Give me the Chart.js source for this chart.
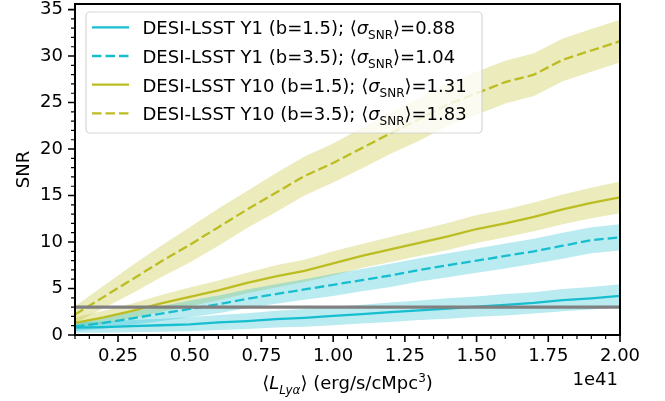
<!DOCTYPE html>
<html>
<head>
<meta charset="utf-8">
<script src="https://cdn.jsdelivr.net/npm/chart.js@4.4.0/dist/chart.umd.min.js"></script>
<style>
  html, body { margin: 0; padding: 0; background: #fff; }
  #wrap { width: 665px; height: 401px; }
</style>
</head>
<body>
<div id="wrap"><canvas id="snrChart" width="665" height="401"></canvas></div>
<script>
// <L_Lya> grid, in units of 1e41 erg/s/cMpc^3
const lumValues = [0.1, 0.2, 0.3, 0.4, 0.5, 0.6, 0.7, 0.8, 0.9, 1.0,
                   1.1, 1.2, 1.3, 1.4, 1.5, 1.6, 1.7, 1.8, 1.9, 2.0];

// mean SNR per survey / bias
const snrY1b15  = [0.8, 0.85, 0.95, 1.05, 1.15, 1.35, 1.5, 1.7, 1.85, 2.05,
                   2.25, 2.45, 2.65, 2.85, 3.05, 3.25, 3.45, 3.75, 3.95, 4.2];
const snrY1b35  = [0.9, 1.3, 1.8, 2.3, 2.8, 3.3, 3.9, 4.4, 4.9, 5.4,
                   5.9, 6.4, 7.0, 7.5, 8.0, 8.5, 9.0, 9.6, 10.2, 10.5];
const snrY10b15 = [1.3, 1.9, 2.6, 3.4, 4.1, 4.8, 5.6, 6.3, 6.9, 7.7,
                   8.5, 9.2, 9.9, 10.6, 11.4, 12.0, 12.7, 13.5, 14.2, 14.8];
const snrY10b35 = [2.2, 4.1, 6.0, 7.9, 9.7, 11.6, 13.5, 15.3, 17.1, 18.5,
                   20.1, 21.7, 23.2, 24.8, 26.0, 27.2, 28.0, 29.6, 30.6, 31.6];

// half width of the shaded spread
const errY1b15  = [0.55, 0.6, 0.65, 0.7, 0.75, 0.8, 0.85, 0.9, 0.95, 1.0,
                   1.0, 1.05, 1.05, 1.1, 1.1, 1.15, 1.15, 1.2, 1.2, 1.25];
const errY1b35  = [0.5, 0.6, 0.7, 0.8, 0.9, 0.95, 1.0, 1.05, 1.1, 1.2,
                   1.2, 1.25, 1.25, 1.3, 1.3, 1.35, 1.35, 1.4, 1.4, 1.4];
const errY10b15 = [0.6, 0.7, 0.8, 0.9, 1.0, 1.05, 1.1, 1.2, 1.2, 1.3,
                   1.3, 1.35, 1.4, 1.45, 1.5, 1.5, 1.55, 1.6, 1.65, 1.7];
const errY10b35 = [0.9, 1.2, 1.5, 1.7, 1.9, 2.0, 2.0, 2.1, 2.1, 2.1,
                   2.2, 2.2, 2.3, 2.3, 2.3, 2.3, 2.3, 2.3, 2.3, 2.3];

const legendLabels = ['DESI-LSST Y1 (b=1.5); ', 'DESI-LSST Y1 (b=3.5); ',
                      'DESI-LSST Y10 (b=1.5); ', 'DESI-LSST Y10 (b=3.5); '];
const sigmaMean = [0.88, 1.04, 1.31, 1.83];
const snrThreshold = 3;

const xTicks = [0.25, 0.5, 0.75, 1.0, 1.25, 1.5, 1.75, 2.0];
const yTicks = [0, 5, 10, 15, 20, 25, 30, 35];

const FONT = 'DejaVu Sans';
const FS = 18;
const CYAN = '#17becf';
const OLIVE = '#bcbd22';
const DASH = [9.5, 4];

const series = [
  { mean: snrY1b15,  err: errY1b15,  color: CYAN,  fillc: 'rgba(23,190,207,0.3)', dash: [] },
  { mean: snrY1b35,  err: errY1b35,  color: CYAN,  fillc: 'rgba(23,190,207,0.3)', dash: DASH },
  { mean: snrY10b15, err: errY10b15, color: OLIVE, fillc: 'rgba(188,189,34,0.3)', dash: [] },
  { mean: snrY10b35, err: errY10b35, color: OLIVE, fillc: 'rgba(188,189,34,0.3)', dash: DASH }
];

const pts = ys => lumValues.map((x, i) => ({ x: x, y: ys[i] }));

const datasets = [];
series.forEach(s => {
  // band: lower edge, then upper edge filled down to it
  datasets.push({ data: pts(s.mean.map((m, i) => m - s.err[i])), borderColor: 'transparent',
                  borderWidth: 0, pointRadius: 0, fill: false, order: 20 });
  datasets.push({ data: pts(s.mean.map((m, i) => m + s.err[i])), borderColor: 'transparent',
                  borderWidth: 0, pointRadius: 0, fill: '-1', backgroundColor: s.fillc, order: 20 });
});
series.forEach(s => {
  datasets.push({ data: pts(s.mean), borderColor: s.color, borderWidth: 2.3, borderDash: s.dash,
                  pointRadius: 0, fill: false, order: 10 });
});
datasets.push({
  data: [{ x: lumValues[0], y: snrThreshold }, { x: lumValues[lumValues.length - 1], y: snrThreshold }],
  borderColor: '#808080', borderWidth: 3.2, pointRadius: 0, fill: false, order: 1
});

// text with sub/superscripts
function drawRuns(ctx, runs, x, y, measureOnly) {
  let w = 0;
  runs.forEach(([txt, st]) => {
    let size = FS, off = 0, italic = false;
    if (st === 'i') italic = true;
    if (st === 's') { size = 12; off = 5; }
    if (st === 'si') { size = 12; off = 5; italic = true; }
    if (st === 'p') { size = 12; off = -7.5; }
    ctx.font = (italic ? 'italic ' : '') + size + 'px "' + FONT + '"';
    if (!measureOnly) ctx.fillText(txt, x + w, y + off);
    w += ctx.measureText(txt).width;
  });
  return w;
}

const decor = {
  id: 'decor',
  afterDraw(chart) {
    const { ctx, chartArea: a, scales: { x, y } } = chart;
    ctx.save();
    ctx.strokeStyle = '#000';
    ctx.fillStyle = '#000';

    // minor ticks
    ctx.lineWidth = 1.2;
    ctx.beginPath();
    for (let i = 2; i <= 40; i++) {
      const v = i * 0.05;
      if (i % 5 === 0) continue;
      const px = x.getPixelForValue(v);
      ctx.moveTo(px, a.bottom); ctx.lineTo(px, a.bottom + 4);
    }
    for (let v = 0; v <= 35; v++) {
      if (v % 5 === 0) continue;
      const py = y.getPixelForValue(v);
      ctx.moveTo(a.left, py); ctx.lineTo(a.left - 4, py);
    }
    ctx.stroke();

    // major ticks
    ctx.lineWidth = 1.6;
    ctx.beginPath();
    xTicks.forEach(v => {
      const px = x.getPixelForValue(v);
      ctx.moveTo(px, a.bottom); ctx.lineTo(px, a.bottom + 7);
    });
    yTicks.forEach(v => {
      const py = y.getPixelForValue(v);
      ctx.moveTo(a.left, py); ctx.lineTo(a.left - 7, py);
    });
    ctx.stroke();

    // frame
    ctx.lineWidth = 2;
    ctx.strokeRect(a.left, a.top, a.right - a.left, a.bottom - a.top);

    // axis labels
    ctx.textBaseline = 'alphabetic';
    const xl = [['\u27E8', 'n'], ['L', 'i'], ['Ly\u03B1', 'si'], ['\u27E9 (erg/s/cMpc', 'n'], ['3', 'p'], [')', 'n']];
    const xw = drawRuns(ctx, xl, 0, 0, true);
    drawRuns(ctx, xl, (a.left + a.right) / 2 - xw / 2, 389);

    ctx.font = FS + 'px "' + FONT + '"';
    ctx.textAlign = 'right';
    ctx.fillText('1e41', a.right - 2, 385);
    ctx.textAlign = 'left';

    ctx.save();
    ctx.translate(28.5, (a.top + a.bottom) / 2);
    ctx.rotate(-Math.PI / 2);
    ctx.textAlign = 'center';
    ctx.fillText('SNR', 0, 0);
    ctx.restore();

    // legend
    const bx = 86, by = 12, bw = 396, bh = 121, r = 4;
    ctx.beginPath();
    ctx.moveTo(bx + r, by);
    ctx.arcTo(bx + bw, by, bx + bw, by + bh, r);
    ctx.arcTo(bx + bw, by + bh, bx, by + bh, r);
    ctx.arcTo(bx, by + bh, bx, by, r);
    ctx.arcTo(bx, by, bx + bw, by, r);
    ctx.closePath();
    ctx.fillStyle = 'rgba(255,255,255,0.8)';
    ctx.fill();
    ctx.strokeStyle = 'rgba(204,204,204,0.8)';
    ctx.lineWidth = 1.2;
    ctx.stroke();

    series.forEach((s, i) => {
      const ry = 27.3 + i * 28.7;
      ctx.strokeStyle = s.color;
      ctx.lineWidth = 2.3;
      ctx.setLineDash(s.dash);
      ctx.beginPath();
      ctx.moveTo(92, ry); ctx.lineTo(129, ry);
      ctx.stroke();
      ctx.setLineDash([]);
      ctx.fillStyle = '#000';
      drawRuns(ctx, [[legendLabels[i], 'n'], ['\u27E8', 'n'], ['\u03C3', 'i'], ['SNR', 's'],
                     ['\u27E9=' + sigmaMean[i].toFixed(2), 'n']], 142.5, ry + 7);
    });
    ctx.restore();
  }
};

new Chart(document.getElementById('snrChart'), {
  type: 'line',
  data: { datasets: datasets },
  options: {
    responsive: false,
    animation: false,
    devicePixelRatio: 1,
    events: [],
    layout: { padding: { top: 4, right: 45, left: 0, bottom: 0 } },
    plugins: { legend: { display: false }, tooltip: { enabled: false } },
    scales: {
      x: {
        type: 'linear', min: 0.1, max: 2.0,
        grid: { display: false, drawTicks: false }, border: { display: false },
        ticks: { autoSkip: false, maxRotation: 0, padding: 11, color: '#000',
                 font: { family: FONT, size: FS }, callback: v => v.toFixed(2) },
        afterBuildTicks: s => { s.ticks = xTicks.map(v => ({ value: v })); },
        afterFit: s => { s.height = 66; s.paddingLeft = 0; s.paddingRight = 0; }
      },
      y: {
        type: 'linear', min: 0, max: 35.6,
        grid: { display: false, drawTicks: false }, border: { display: false },
        ticks: { autoSkip: false, padding: 12, color: '#000',
                 font: { family: FONT, size: FS } },
        afterBuildTicks: s => { s.ticks = yTicks.map(v => ({ value: v })); },
        afterFit: s => { s.width = 75; s.paddingTop = 0; s.paddingBottom = 0; }
      }
    }
  },
  plugins: [decor]
});
</script>
</body>
</html>
